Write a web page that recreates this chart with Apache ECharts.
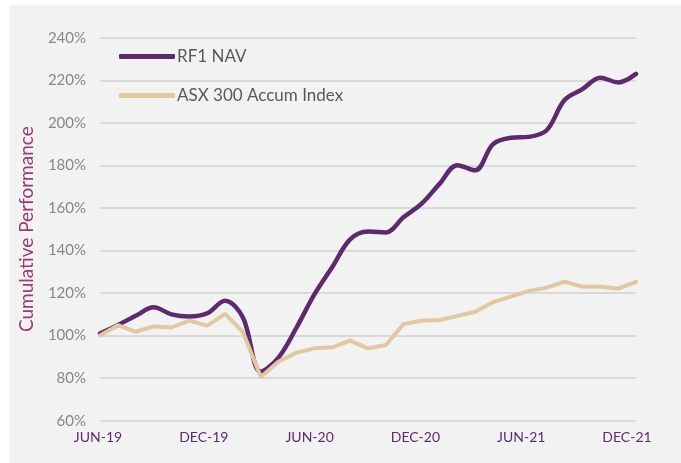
<!DOCTYPE html>
<html>
<head>
<meta charset="utf-8">
<script src="https://cdn.jsdelivr.net/npm/echarts@6/dist/echarts.min.js"></script>
<style>
  html, body { margin: 0; padding: 0; background: #ffffff; }
  #panel { position: absolute; left: 9px; top: 5px; width: 672px; height: 458px; background: #f2f2f2; }
  #chart { position: absolute; left: 0; top: 0; width: 681px; height: 463px; }
</style>
</head>
<body>
<div id="panel"></div>
<div id="chart"></div>
<script>
// monthly points, Jun-19 .. Dec-21
const months = ['JUN-19', 'JUL-19', 'AUG-19', 'SEP-19', 'OCT-19', 'NOV-19', 'DEC-19',
  'JAN-20', 'FEB-20', 'MAR-20', 'APR-20', 'MAY-20', 'JUN-20', 'JUL-20', 'AUG-20',
  'SEP-20', 'OCT-20', 'NOV-20', 'DEC-20', 'JAN-21', 'FEB-21', 'MAR-21', 'APR-21',
  'MAY-21', 'JUN-21', 'JUL-21', 'AUG-21', 'SEP-21', 'OCT-21', 'NOV-21', 'DEC-21'];

const rf1Nav = [101, 105, 109.3, 113.3, 110, 109, 110.5, 116.4, 108.5, 83, 89.8,
  103.8, 119.4, 132.2, 145.2, 148.9, 148.5, 155.7, 162, 171.3, 180.1, 177.7, 190,
  193, 193.4, 196.5, 210.7, 215.8, 221.2, 219, 223];

const asx300 = [100, 104.9, 101.8, 104.3, 103.8, 107, 104.7, 110.2, 101.7, 80.5, 87.8,
  92, 94, 94.5, 97.6, 94, 95.6, 105.5, 107, 107.3, 109.2, 111.2, 115.7, 118.3, 121,
  122.5, 125.3, 123, 123, 122.1, 125.3];

const yMin = 60, yMax = 240, yStep = 20;

const chart = echarts.init(document.getElementById('chart'));

chart.setOption({
  backgroundColor: 'transparent',
  animation: false,
  textStyle: { fontFamily: 'Lato' },
  legend: {
    left: 114,
    top: 43,
    orient: 'vertical',
    icon: 'roundRect',
    itemWidth: 56,
    itemHeight: 5,
    itemGap: 22,
    textStyle: { color: '#595959', fontSize: 17, fontFamily: 'Lato', padding: [0, 0, 0, -3] },
    data: ['RF1 NAV', 'ASX 300 Accum Index']
  },
  grid: [
    { left: 100, right: 45, top: 37.7, bottom: 42.3 },
    // label-only grid, the reference's date labels sit on a slightly narrower span
    { left: 98, right: 54, top: 37.7, bottom: 42.3 }
  ],
  xAxis: [
    {
      type: 'category',
      gridIndex: 0,
      data: months,
      boundaryGap: false,
      axisLine: { show: false },
      axisTick: { show: false },
      axisLabel: { show: false }
    },
    {
      type: 'category',
      gridIndex: 1,
      data: months,
      boundaryGap: false,
      axisLine: { show: false },
      axisTick: { show: false },
      axisLabel: {
        interval: 5,
        margin: 10,
        color: '#5e2a6e',
        fontSize: 14,
        fontFamily: 'Lato'
      }
    }
  ],
  yAxis: [
    {
      type: 'value',
      gridIndex: 0,
      min: yMin,
      max: yMax,
      interval: yStep,
      name: 'Cumulative Performance',
      nameLocation: 'middle',
      nameGap: 64,
      nameTextStyle: { color: '#9b3b73', fontSize: 19, fontFamily: 'Lato' },
      axisLine: { show: false },
      axisTick: { show: false },
      axisLabel: {
        margin: 14,
        color: '#878787',
        fontSize: 15,
        fontFamily: 'Lato',
        formatter: v => v + '%'
      },
      splitLine: { lineStyle: { color: '#d9d9d9', width: 2 } }
    },
    {
      type: 'value',
      gridIndex: 1,
      min: yMin,
      max: yMax,
      show: false,
      splitLine: { show: false }
    }
  ],
  series: [
    {
      name: 'RF1 NAV',
      type: 'line',
      data: rf1Nav,
      smooth: 0.35,
      symbol: 'none',
      color: '#5e2a6e',
      lineStyle: { width: 4.5, color: '#5e2a6e', cap: 'round' }
    },
    {
      name: 'ASX 300 Accum Index',
      type: 'line',
      data: asx300,
      symbol: 'none',
      color: '#e0c9a0',
      lineStyle: { width: 4, color: '#e0c9a0', cap: 'round' }
    }
  ]
});
</script>
</body>
</html>
